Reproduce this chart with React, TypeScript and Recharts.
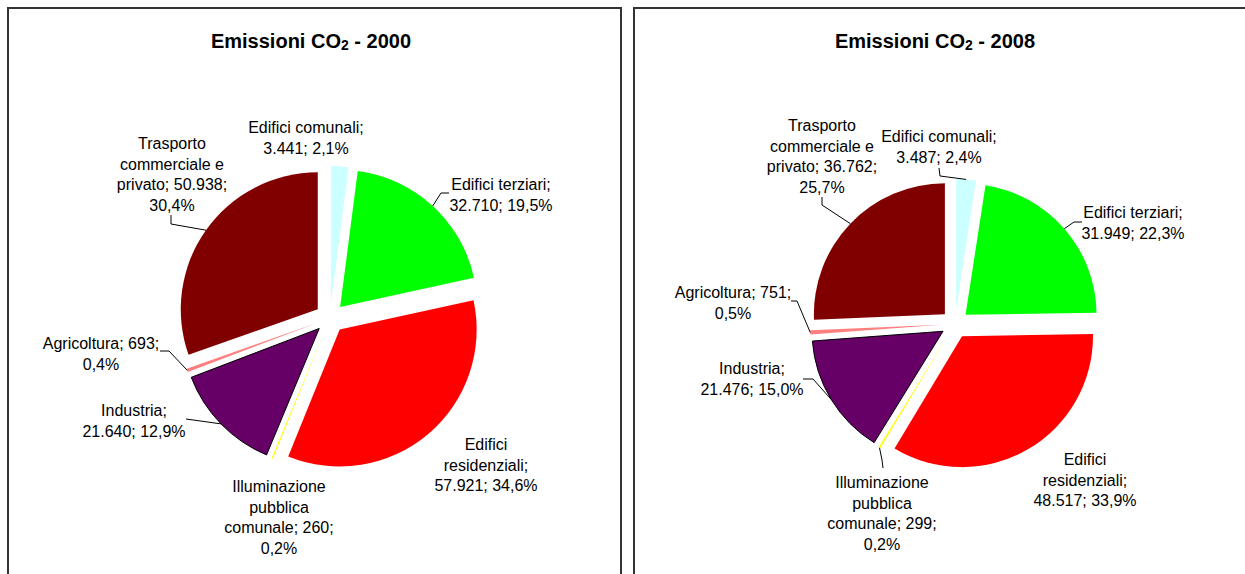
import React from "react";
import { PieChart, Pie, Sector } from "recharts";

// --- data -----------------------------------------------------------------
const categories = [
  "Edifici comunali",
  "Edifici terziari",
  "Edifici residenziali",
  "Illuminazione pubblica comunale",
  "Industria",
  "Agricoltura",
  "Trasporto commerciale e privato",
];
const values2000 = [3441, 32710, 57921, 260, 21640, 693, 50938];
const values2008 = [3487, 31949, 48517, 299, 21476, 751, 36762];
const years = ["2000", "2008"];

// --- style ----------------------------------------------------------------
const COLORS = [
  "#CCFFFF", // comunali
  "#00FF00", // terziari
  "#FF0000", // residenziali
  "#FFFF00", // illuminazione
  "#660066", // industria
  "#FF8080", // agricoltura
  "#800000", // trasporto
];
const FONT = '"Liberation Sans", Arial, sans-serif';
const LINE_H = 20.5;
const RAD = Math.PI / 180;

type LabelLayout = {
  dx: number;
  dy: number;
  words: number[]; // words per line
  leader?: Array<[number, number]>;
};

// label positions relative to pie centre (first line baseline)
const layout2000: LabelLayout[] = [
  { dx: -24, dy: -185, words: [2, 2] },
  { dx: 171, dy: -128, words: [2, 2], leader: [[119, -125], [111, -125]] },
  { dx: 156, dy: 132, words: [1, 1, 2] },
  { dx: -51, dy: 174, words: [1, 1, 2, 1] },
  { dx: -196, dy: 98, words: [1, 2], leader: [[-144, 101]] },
  { dx: -229, dy: 31, words: [2, 1], leader: [[-170, 33], [-161, 33]] },
  { dx: -158, dy: -169, words: [1, 2, 2, 1], leader: [[-159, -103], [-159, -94]] },
];

const layout2008: LabelLayout[] = [
  { dx: -16, dy: -182, words: [2, 2], leader: [[-16, -156], [-15, -148]] },
  { dx: 178, dy: -106, words: [2, 2], leader: [[127, -102], [119, -102]] },
  { dx: 130, dy: 141, words: [1, 1, 2] },
  { dx: -73, dy: 164, words: [1, 1, 2, 1], leader: [[-72, 144], [-73, 136]] },
  { dx: -203, dy: 50, words: [1, 2], leader: [[-152, 55], [-142, 55]] },
  { dx: -222, dy: -26, words: [2, 1], leader: [[-164, -23], [-158, -23]] },
  { dx: -133, dy: -193, words: [1, 2, 2, 1], leader: [[-133, -127], [-133, -119]] },
];

const toRows = (values: number[]) =>
  categories.map((name, i) => ({ name, value: values[i] }));

const fmtNum = (v: number) =>
  String(v).replace(/\B(?=(\d{3})+(?!\d))/g, ".");
const fmtPct = (p: number) => (p * 100).toFixed(1).replace(".", ",") + "%";

const offsetOf = (midAngle: number, explode: number) => ({
  x: explode * Math.cos(-midAngle * RAD),
  y: explode * Math.sin(-midAngle * RAD),
});

// exploded slice, drawn in place of the label line
const sliceRenderer = (explode: number) => (props: any) => {
  const { cx, cy, outerRadius, startAngle, endAngle, midAngle, index } = props;
  const o = offsetOf(midAngle, explode);
  return (
    <Sector
      key={`slice-${index}`}
      cx={cx + o.x}
      cy={cy + o.y}
      innerRadius={0}
      outerRadius={outerRadius}
      startAngle={startAngle}
      endAngle={endAngle}
      fill={COLORS[index]}
      stroke={index === 4 ? "#000" : "none"}
      strokeWidth={1}
    />
  );
};

const labelRenderer = (layout: LabelLayout[], explode: number) => (props: any) => {
  const { cx, cy, outerRadius, midAngle, percent, value, name, index } = props;
  const L = layout[index];
  const words = `${name}; ${fmtNum(value)}; ${fmtPct(percent)}`.split(" ");
  const lines: string[] = [];
  let k = 0;
  L.words.forEach((n) => {
    lines.push(words.slice(k, k + n).join(" "));
    k += n;
  });

  let leader = null;
  if (L.leader) {
    const o = offsetOf(midAngle, explode);
    const ex = cx + o.x + outerRadius * Math.cos(-midAngle * RAD);
    const ey = cy + o.y + outerRadius * Math.sin(-midAngle * RAD);
    const pts = L.leader
      .map(([x, y]) => `${cx + x},${cy + y}`)
      .concat(`${ex},${ey}`)
      .join(" ");
    leader = <polyline points={pts} fill="none" stroke="#000" strokeWidth={1} />;
  }

  return (
    <g key={`label-${index}`}>
      {leader}
      <text textAnchor="middle" fontFamily={FONT} fontSize={16} fill="#000">
        {lines.map((ln, i) => (
          <tspan key={i} x={cx + L.dx} y={cy + L.dy + i * LINE_H}>
            {ln}
          </tspan>
        ))}
      </text>
    </g>
  );
};

const boxStyle = (left: number): React.CSSProperties => ({
  position: "absolute",
  left,
  top: 7,
  width: 615,
  height: 620,
  border: "2px solid #333",
  boxSizing: "border-box",
});

const Title = ({ year, center }: { year: string; center: number }) => (
  <div
    style={{
      position: "absolute",
      left: center - 150,
      width: 300,
      top: 29,
      lineHeight: "24px",
      textAlign: "center",
      fontFamily: FONT,
      fontWeight: "bold",
      fontSize: 20,
      color: "#000",
    }}
  >
    Emissioni CO
    <span style={{ fontSize: 14, verticalAlign: "-2px" }}>2</span> - {year}
  </div>
);

export default function App() {
  return (
    <div
      style={{
        position: "relative",
        width: 1245,
        height: 574,
        overflow: "hidden",
        background: "#fff",
      }}
    >
      <style>{"body{margin:0}"}</style>
      <div style={boxStyle(7)} />
      <div style={boxStyle(633)} />
      <Title year={years[0]} center={311} />
      <Title year={years[1]} center={935} />
      <div style={{ position: "absolute", left: 0, top: 0 }}>
        <PieChart width={1245} height={574} margin={{ top: 0, right: 0, bottom: 0, left: 0 }}>
          <Pie
            data={toRows(values2000)}
            dataKey="value"
            nameKey="name"
            cx={330}
            cy={318}
            outerRadius={137}
            startAngle={90}
            endAngle={-270}
            fill="none"
            stroke="none"
            isAnimationActive={false}
            labelLine={sliceRenderer(15)}
            label={labelRenderer(layout2000, 15)}
          />
          <Pie
            data={toRows(values2008)}
            dataKey="value"
            nameKey="name"
            cx={955}
            cy={324}
            outerRadius={131}
            startAngle={90}
            endAngle={-270}
            fill="none"
            stroke="none"
            isAnimationActive={false}
            labelLine={sliceRenderer(14)}
            label={labelRenderer(layout2008, 14)}
          />
        </PieChart>
      </div>
    </div>
  );
}
